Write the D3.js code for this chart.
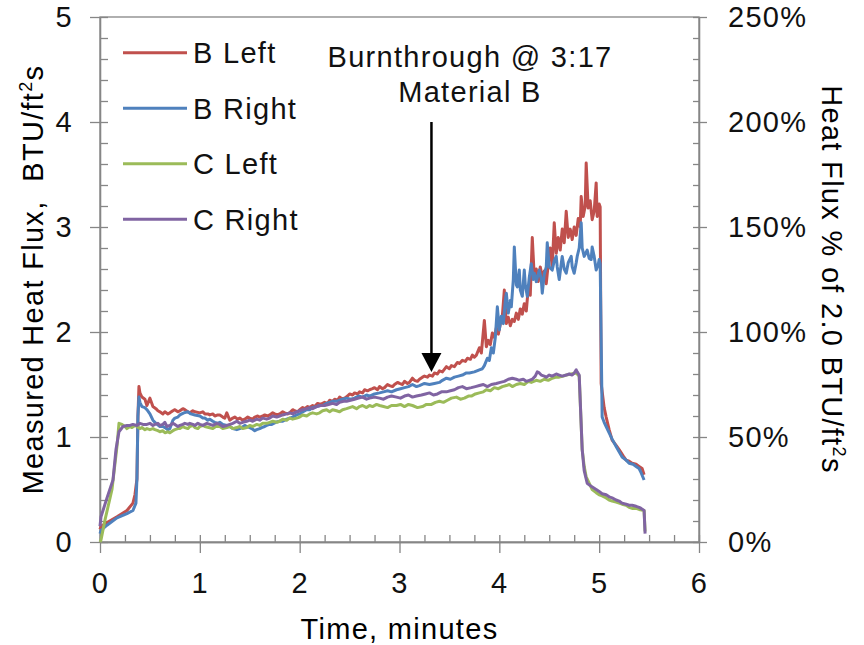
<!DOCTYPE html>
<html>
<head>
<meta charset="utf-8">
<script src="https://cdn.jsdelivr.net/npm/d3@7"></script>
<style>
  body { margin: 0; background: #fff; }
  svg text { font-family: "Liberation Sans", Arial, sans-serif; letter-spacing: 1.3px; white-space: pre; }
</style>
</head>
<body>
<div id="chart"></div>
<script>
// heat flux traces, [time in minutes, BTU/ft2s]
var bLeft = [[0,0.12],[0.01,0.15],[0.08,0.19],[0.17,0.24],[0.27,0.30],[0.33,0.37],[0.35,0.45],[0.37,0.60],
  [0.38,1.20],[0.39,1.48],[0.40,1.42],[0.42,1.38],[0.45,1.36],[0.47,1.30],[0.50,1.37],[0.53,1.29],[0.56,1.27],
  [0.58,1.25],[0.60,1.24],[0.63,1.22],[0.65,1.24],[0.68,1.22],[0.70,1.23],[0.73,1.25],[0.75,1.26],[0.78,1.24],
  [0.80,1.25],[0.83,1.27],[0.85,1.26],[0.88,1.24],[0.90,1.23],[0.93,1.25],[0.95,1.24],[1.00,1.23],
  [1.03,1.24],[1.05,1.22],[1.08,1.22],[1.10,1.21],[1.13,1.22],[1.15,1.20],[1.18,1.21],[1.20,1.21],[1.23,1.19],
  [1.25,1.18],[1.27,1.23],[1.30,1.16],[1.33,1.18],[1.35,1.19],[1.38,1.17],[1.40,1.18],
  [1.43,1.16],[1.45,1.17],[1.48,1.19],[1.50,1.18],[1.53,1.17],[1.55,1.19],[1.58,1.20],[1.60,1.19],[1.63,1.20],
  [1.65,1.21],[1.68,1.20],[1.70,1.21],[1.73,1.23],[1.75,1.22],[1.78,1.21],[1.80,1.22],[1.83,1.24],[1.85,1.23],
  [1.88,1.22],[1.90,1.23],[1.93,1.26],[1.95,1.25],[1.98,1.24],[2.00,1.26],[2.03,1.28],[2.05,1.27],[2.08,1.29],
  [2.10,1.28],[2.13,1.30],[2.15,1.29],[2.18,1.32],[2.21,1.31],[2.25,1.33],[2.28,1.32],[2.30,1.35],
  [2.33,1.34],[2.35,1.36],[2.38,1.35],[2.40,1.38],[2.43,1.36],[2.45,1.37],[2.48,1.39],[2.50,1.41],[2.53,1.40],
  [2.55,1.42],[2.58,1.41],[2.60,1.43],[2.63,1.42],[2.65,1.45],[2.68,1.44],[2.70,1.45],[2.73,1.46],[2.75,1.47],
  [2.78,1.45],[2.80,1.48],[2.83,1.46],[2.85,1.47],[2.88,1.50],[2.90,1.49],[2.93,1.48],[2.95,1.50],[2.98,1.52],
  [3.00,1.51],[3.03,1.50],[3.05,1.53],[3.08,1.51],[3.10,1.52],[3.13,1.56],[3.15,1.54],[3.18,1.53],[3.20,1.55],
  [3.23,1.57],[3.25,1.58],[3.28,1.57],[3.30,1.59],[3.33,1.58],[3.35,1.61],[3.38,1.60],[3.40,1.63],[3.43,1.62],
  [3.47,1.67],[3.50,1.65],[3.52,1.68],[3.55,1.67],[3.58,1.71],[3.60,1.70],[3.63,1.73],[3.66,1.72],[3.68,1.75],
  [3.71,1.74],[3.73,1.78],[3.75,1.76],[3.77,1.78],[3.80,1.85],[3.82,1.80],[3.85,2.11],[3.87,1.86],[3.89,1.92],
  [3.91,1.88],[3.93,1.99],[3.95,1.95],[3.97,2.04],[3.99,1.98],[4.01,2.08],[4.03,2.15],[4.05,2.40],[4.07,2.08],
  [4.09,2.14],[4.11,2.06],[4.13,2.12],[4.15,2.10],[4.17,2.18],[4.19,2.12],[4.21,2.22],[4.23,2.17],[4.25,2.27],
  [4.27,2.20],[4.29,2.42],[4.31,2.35],[4.33,2.90],[4.35,2.52],[4.37,2.60],[4.39,2.48],[4.41,2.62],[4.43,2.52],
  [4.45,2.58],[4.47,2.46],[4.49,2.65],[4.51,2.80],[4.53,2.62],[4.55,3.04],[4.57,2.75],[4.59,2.90],[4.61,2.78],
  [4.63,2.98],[4.65,2.85],[4.67,3.15],[4.69,2.90],[4.71,2.98],[4.73,2.88],[4.75,3.00],[4.77,2.92],[4.79,3.08],
  [4.81,3.00],[4.82,3.29],[4.84,3.10],[4.86,3.20],[4.87,3.61],[4.89,3.18],[4.91,3.25],[4.93,3.07],[4.95,3.15],
  [4.97,3.42],[4.98,3.10],[5.00,3.22],[5.01,3.19],[5.02,1.51],[5.05,1.28],[5.07,1.19],[5.10,1.07],[5.13,0.97],
  [5.17,0.92],[5.20,0.88],[5.24,0.82],[5.27,0.78],[5.30,0.77],[5.33,0.75],[5.37,0.74],[5.40,0.72],[5.43,0.70],
  [5.45,0.64]];

var bRight = [[0,0.08],[0.01,0.11],[0.07,0.16],[0.17,0.23],[0.27,0.27],[0.33,0.30],[0.36,0.37],[0.37,0.60],
  [0.38,1.20],[0.39,1.38],[0.40,1.33],[0.42,1.29],[0.45,1.28],[0.47,1.26],[0.50,1.22],[0.53,1.16],[0.56,1.13],
  [0.60,1.10],[0.63,1.10],[0.65,1.09],[0.68,1.07],[0.70,1.08],[0.73,1.16],[0.75,1.18],[0.78,1.19],[0.80,1.21],
  [0.84,1.23],[0.88,1.24],[0.91,1.22],[0.95,1.21],[1.00,1.20],[1.03,1.18],[1.05,1.18],[1.08,1.16],[1.10,1.17],
  [1.13,1.15],[1.15,1.14],[1.18,1.13],[1.20,1.14],[1.23,1.12],[1.27,1.11],[1.30,1.10],[1.33,1.08],[1.37,1.07],
  [1.40,1.08],[1.42,1.09],[1.45,1.11],[1.47,1.10],[1.50,1.09],[1.52,1.08],[1.55,1.06],[1.57,1.07],[1.60,1.08],
  [1.62,1.09],[1.65,1.10],[1.67,1.11],[1.70,1.12],[1.72,1.12],[1.76,1.14],[1.80,1.15],[1.83,1.15],[1.87,1.17],
  [1.90,1.18],[1.93,1.19],[1.97,1.21],[2.00,1.22],[2.03,1.24],[2.07,1.26],[2.10,1.26],[2.13,1.28],[2.17,1.29],
  [2.20,1.30],[2.23,1.30],[2.27,1.32],[2.30,1.33],[2.33,1.34],[2.37,1.34],[2.40,1.35],[2.43,1.36],[2.47,1.37],
  [2.51,1.36],[2.55,1.37],[2.59,1.39],[2.63,1.38],[2.67,1.40],[2.70,1.39],[2.75,1.41],[2.80,1.42],[2.84,1.43],
  [2.88,1.44],[2.92,1.43],[2.97,1.45],[3.01,1.46],[3.05,1.47],[3.09,1.48],[3.13,1.50],[3.17,1.48],[3.20,1.49],
  [3.25,1.51],[3.30,1.50],[3.35,1.51],[3.40,1.52],[3.43,1.54],[3.47,1.56],[3.51,1.55],[3.55,1.57],[3.59,1.58],
  [3.63,1.59],[3.67,1.61],[3.70,1.61],[3.75,1.62],[3.80,1.64],[3.83,1.65],[3.85,1.68],[3.88,1.75],[3.90,1.73],
  [3.92,1.85],[3.94,1.80],[3.96,1.95],[3.98,2.24],[4.00,2.02],[4.02,2.15],[4.04,2.08],[4.06,2.30],[4.07,2.37],
  [4.09,2.18],[4.11,2.30],[4.12,2.24],[4.14,2.50],[4.15,2.81],[4.17,2.45],[4.18,2.43],[4.20,2.59],[4.21,2.40],
  [4.23,2.34],[4.25,2.59],[4.26,2.45],[4.28,2.34],[4.30,2.52],[4.32,2.65],[4.34,2.50],[4.35,2.56],[4.37,2.48],
  [4.40,2.59],[4.42,2.50],[4.43,2.37],[4.45,2.55],[4.47,2.62],[4.48,2.85],[4.50,2.62],[4.53,2.59],[4.55,2.68],
  [4.57,2.72],[4.58,2.62],[4.60,2.50],[4.62,2.65],[4.63,2.72],[4.65,2.60],[4.67,2.56],[4.69,2.66],[4.72,2.72],
  [4.73,2.62],[4.75,2.56],[4.77,2.66],[4.78,2.72],[4.80,2.80],[4.82,3.04],[4.83,2.80],[4.85,2.72],[4.87,2.76],
  [4.88,2.78],[4.90,2.70],[4.92,2.69],[4.93,2.81],[4.95,2.72],[4.97,2.59],[4.99,2.64],[5.00,2.69],[5.01,2.65],
  [5.03,1.19],[5.05,1.14],[5.07,1.10],[5.10,1.04],[5.13,0.98],[5.17,0.91],[5.20,0.86],[5.23,0.81],[5.27,0.78],
  [5.30,0.75],[5.34,0.74],[5.37,0.72],[5.40,0.70],[5.42,0.66],[5.45,0.59]];

var cLeft = [[0,0.00],[0.01,0.02],[0.05,0.21],[0.12,0.50],[0.17,0.91],[0.19,1.13],[0.22,1.12],[0.25,1.10],
  [0.27,1.08],[0.30,1.10],[0.32,1.09],[0.35,1.11],[0.37,1.10],[0.40,1.08],[0.42,1.09],[0.45,1.07],[0.47,1.08],
  [0.50,1.07],[0.53,1.08],[0.55,1.07],[0.58,1.06],[0.60,1.05],[0.63,1.06],[0.65,1.04],[0.68,1.05],[0.70,1.04],
  [0.73,1.06],[0.75,1.07],[0.78,1.08],[0.80,1.08],[0.83,1.10],[0.85,1.09],[0.88,1.08],[0.90,1.10],[0.93,1.11],
  [0.95,1.09],[0.98,1.08],[1.00,1.10],[1.03,1.11],[1.05,1.10],[1.09,1.09],[1.13,1.08],[1.16,1.10],[1.20,1.10],
  [1.23,1.08],[1.27,1.09],[1.30,1.10],[1.33,1.08],[1.37,1.09],[1.40,1.10],[1.43,1.08],[1.47,1.09],[1.50,1.11],
  [1.53,1.10],[1.57,1.12],[1.60,1.11],[1.63,1.13],[1.67,1.13],[1.70,1.14],[1.73,1.15],[1.77,1.14],[1.80,1.15],
  [1.83,1.17],[1.87,1.16],[1.90,1.18],[1.93,1.17],[1.97,1.18],[2.00,1.19],[2.03,1.21],[2.07,1.20],[2.10,1.22],
  [2.13,1.23],[2.17,1.22],[2.20,1.23],[2.23,1.25],[2.27,1.26],[2.30,1.24],[2.33,1.26],[2.37,1.25],[2.40,1.24],
  [2.43,1.26],[2.47,1.27],[2.50,1.28],[2.53,1.29],[2.57,1.27],[2.60,1.29],[2.63,1.30],[2.67,1.28],[2.70,1.30],
  [2.73,1.29],[2.77,1.31],[2.80,1.30],[2.84,1.29],[2.88,1.28],[2.92,1.30],[2.97,1.30],[3.01,1.31],[3.05,1.29],
  [3.09,1.31],[3.13,1.30],[3.18,1.28],[3.23,1.29],[3.27,1.31],[3.32,1.31],[3.36,1.33],[3.40,1.34],[3.44,1.33],
  [3.48,1.35],[3.52,1.37],[3.57,1.38],[3.61,1.36],[3.65,1.37],[3.69,1.39],[3.72,1.39],[3.76,1.41],[3.80,1.42],
  [3.84,1.43],[3.87,1.45],[3.91,1.44],[3.95,1.47],[3.99,1.46],[4.03,1.48],[4.07,1.49],[4.10,1.50],[4.13,1.48],
  [4.17,1.50],[4.21,1.51],[4.25,1.50],[4.29,1.53],[4.32,1.52],[4.37,1.54],[4.41,1.53],[4.45,1.55],[4.49,1.54],
  [4.53,1.56],[4.57,1.57],[4.60,1.57],[4.64,1.58],[4.67,1.59],[4.72,1.60],[4.77,1.61],[4.80,1.58],[4.83,0.88],
  [4.85,0.72],[4.87,0.62],[4.90,0.56],[4.93,0.50],[4.97,0.47],[5.00,0.45],[5.03,0.44],[5.07,0.42],[5.10,0.40],
  [5.13,0.39],[5.17,0.38],[5.20,0.37],[5.23,0.36],[5.27,0.35],[5.30,0.33],[5.33,0.32],[5.37,0.32],[5.40,0.31],
  [5.45,0.30],[5.46,0.10]];

var cRight = [[0,0.15],[0.01,0.24],[0.07,0.42],[0.13,0.59],[0.16,0.88],[0.19,1.05],[0.23,1.10],[0.27,1.11],
  [0.30,1.11],[0.33,1.12],[0.37,1.11],[0.40,1.13],[0.43,1.12],[0.47,1.12],[0.50,1.13],[0.53,1.11],[0.55,1.12],
  [0.58,1.13],[0.60,1.11],[0.63,1.12],[0.65,1.14],[0.67,1.10],[0.70,1.11],[0.73,1.13],[0.75,1.12],[0.78,1.10],
  [0.80,1.11],[0.83,1.12],[0.85,1.13],[0.88,1.12],[0.90,1.13],[0.93,1.12],[0.95,1.11],[0.98,1.13],[1.00,1.12],
  [1.03,1.11],[1.07,1.13],[1.10,1.12],[1.13,1.11],[1.17,1.13],[1.20,1.12],[1.23,1.10],[1.27,1.11],[1.30,1.12],
  [1.33,1.13],[1.37,1.15],[1.40,1.13],[1.43,1.14],[1.47,1.15],[1.50,1.16],[1.53,1.15],[1.57,1.17],[1.60,1.16],
  [1.63,1.18],[1.67,1.17],[1.70,1.18],[1.73,1.20],[1.77,1.19],[1.80,1.20],[1.83,1.21],[1.87,1.22],[1.90,1.23],
  [1.93,1.22],[1.97,1.24],[2.00,1.25],[2.03,1.26],[2.07,1.27],[2.10,1.28],[2.13,1.27],[2.17,1.29],[2.21,1.30],
  [2.25,1.30],[2.29,1.31],[2.33,1.32],[2.37,1.31],[2.40,1.33],[2.44,1.34],[2.47,1.34],[2.51,1.35],[2.55,1.36],
  [2.59,1.37],[2.63,1.38],[2.67,1.36],[2.70,1.37],[2.75,1.38],[2.80,1.37],[2.84,1.36],[2.88,1.38],[2.92,1.39],
  [2.97,1.38],[3.01,1.37],[3.05,1.39],[3.09,1.40],[3.13,1.38],[3.17,1.39],[3.22,1.40],[3.26,1.41],[3.30,1.42],
  [3.34,1.40],[3.38,1.41],[3.42,1.43],[3.47,1.43],[3.51,1.44],[3.55,1.45],[3.59,1.47],[3.63,1.48],[3.67,1.46],
  [3.72,1.47],[3.76,1.48],[3.80,1.49],[3.84,1.50],[3.88,1.48],[3.92,1.50],[3.97,1.51],[4.01,1.52],[4.05,1.53],
  [4.09,1.55],[4.13,1.56],[4.17,1.55],[4.20,1.54],[4.24,1.55],[4.27,1.53],[4.30,1.54],[4.33,1.55],[4.36,1.58],
  [4.38,1.62],[4.40,1.61],[4.42,1.59],[4.45,1.58],[4.47,1.57],[4.50,1.59],[4.53,1.58],[4.57,1.60],[4.60,1.59],
  [4.63,1.58],[4.67,1.59],[4.70,1.60],[4.73,1.59],[4.75,1.61],[4.77,1.64],[4.78,1.62],[4.80,1.59],[4.83,0.88],
  [4.85,0.68],[4.88,0.56],[4.92,0.53],[4.97,0.50],[5.00,0.48],[5.03,0.46],[5.07,0.45],[5.10,0.43],[5.13,0.42],
  [5.17,0.40],[5.20,0.39],[5.23,0.37],[5.27,0.36],[5.30,0.35],[5.33,0.35],[5.37,0.34],[5.40,0.33],[5.42,0.32],
  [5.45,0.30],[5.46,0.08]];

var seriesNames = ["B Left", "B Right", "C Left", "C Right"];
var xTicks = [0, 1, 2, 3, 4, 5, 6];
var yTicks = [0, 1, 2, 3, 4, 5];
var pctTicks = [0, 0.5, 1, 1.5, 2, 2.5];
var noteLines = ["Burnthrough @ 3:17", "Material B"];
var arrowPoint = [3.32, 4.0, 1.62]; // time, start flux, tip flux

var colors = ["#C0504D", "#4F81BD", "#9BBB59", "#8064A2"];
var axisColor = "#868686";

var margin = {top: 17, right: 165, bottom: 103, left: 100},
    width = 864 - margin.left - margin.right,
    height = 645 - margin.top - margin.bottom;

var svg = d3.select("#chart")
  .append("svg")
    .attr("width", width + margin.left + margin.right)
    .attr("height", height + margin.top + margin.bottom)
  .append("g")
    .attr("transform", "translate(" + margin.left + "," + margin.top + ")");

var x = d3.scaleLinear().domain([0, 6]).range([0, width]);
var y = d3.scaleLinear().domain([0, 5]).range([height, 0]);
var y2 = d3.scaleLinear().domain([0, 2.5]).range([height, 0]);

// plot border (top edge)
svg.append("rect")
  .attr("width", width).attr("height", height)
  .attr("fill", "none").attr("stroke", axisColor).attr("stroke-width", 1.3);

function styleAxis(g) {
  g.attr("font-size", 29).attr("font-family", null);
  g.selectAll("path, line").attr("stroke", axisColor).attr("stroke-width", 1.3);
  g.selectAll("text").attr("fill", "#111");
}

// minor (inside) ticks
svg.append("g").attr("transform", "translate(0," + height + ")")
  .call(d3.axisBottom(x).tickValues(d3.range(0, 6.001, 0.25)).tickSize(-7).tickSizeOuter(0).tickFormat(""))
  .call(styleAxis);
svg.append("g")
  .call(d3.axisLeft(y).tickValues(d3.range(0, 5.001, 0.2)).tickSize(-8).tickSizeOuter(0).tickFormat(""))
  .call(styleAxis);
svg.append("g").attr("transform", "translate(" + width + ",0)")
  .call(d3.axisRight(y2).tickValues(d3.range(0, 2.5001, 0.1)).tickSize(-6).tickSizeOuter(0).tickFormat(""))
  .call(styleAxis);

// major ticks with labels
svg.append("g").attr("transform", "translate(0," + height + ")")
  .call(d3.axisBottom(x).tickValues(xTicks).tickSize(11).tickSizeOuter(0).tickPadding(19).tickFormat(d3.format("d")))
  .call(styleAxis);
svg.append("g")
  .call(d3.axisLeft(y).tickValues(yTicks).tickSize(10).tickSizeOuter(0).tickPadding(17).tickFormat(d3.format("d")))
  .call(styleAxis);
svg.append("g").attr("transform", "translate(" + width + ",0)")
  .call(d3.axisRight(y2).tickValues(pctTicks).tickSize(8).tickSizeOuter(0).tickPadding(21).tickFormat(d3.format(".0%")))
  .call(styleAxis);

// lines
var line = d3.line()
  .x(function(d) { return x(d[0]); })
  .y(function(d) { return y(d[1]); });

[bLeft, bRight, cLeft, cRight].forEach(function(data, i) {
  svg.append("path")
    .datum(data)
    .attr("fill", "none")
    .attr("stroke", colors[i])
    .attr("stroke-width", 3)
    .attr("stroke-linejoin", "round")
    .attr("d", line);
});

// axis titles
svg.append("text")
  .attr("x", width / 2).attr("y", height + 97)
  .attr("text-anchor", "middle").attr("font-size", 29)
  .text("Time, minutes");

var lt = svg.append("text")
  .attr("transform", "translate(-57," + (height / 2) + ") rotate(-90)")
  .attr("text-anchor", "middle").attr("font-size", 29);
lt.append("tspan").text("Measured Heat Flux,  BTU/ft");
lt.append("tspan").attr("font-size", 18).attr("dy", -11).text("2");
lt.append("tspan").attr("dy", 11).text("s");

var rt = svg.append("text")
  .attr("transform", "translate(" + (width + 123) + "," + (height / 2) + ") rotate(90)")
  .attr("text-anchor", "middle").attr("font-size", 29);
rt.append("tspan").text("Heat Flux % of 2.0 BTU/ft");
rt.append("tspan").attr("font-size", 18).attr("dy", -11).text("2");
rt.append("tspan").attr("dy", 11).text("s");

// legend
var legend = svg.append("g").attr("transform", "translate(23,35.7)");
seriesNames.forEach(function(name, i) {
  legend.append("line")
    .attr("x1", 0).attr("x2", 64)
    .attr("y1", i * 55.5).attr("y2", i * 55.5)
    .attr("stroke", colors[i]).attr("stroke-width", 3);
  legend.append("text")
    .attr("x", 70).attr("y", i * 55.5 + 10.5)
    .attr("font-size", 29).attr("fill", "#111")
    .text(name);
});

// burnthrough annotation
noteLines.forEach(function(t, i) {
  svg.append("text")
    .attr("x", 370).attr("y", 49.5 + i * 35)
    .attr("text-anchor", "middle").attr("font-size", 29).attr("fill", "#111")
    .text(t);
});

var ax = x(arrowPoint[0]), ay0 = y(arrowPoint[1]), ay1 = y(arrowPoint[2]);
svg.append("line")
  .attr("x1", ax).attr("x2", ax)
  .attr("y1", ay0).attr("y2", ay1 - 16)
  .attr("stroke", "#000").attr("stroke-width", 2.5);
svg.append("path")
  .attr("d", "M" + (ax - 10) + "," + (ay1 - 19) + "L" + (ax + 10) + "," + (ay1 - 19) + "L" + ax + "," + ay1 + "Z")
  .attr("fill", "#000");
</script>
</body>
</html>
